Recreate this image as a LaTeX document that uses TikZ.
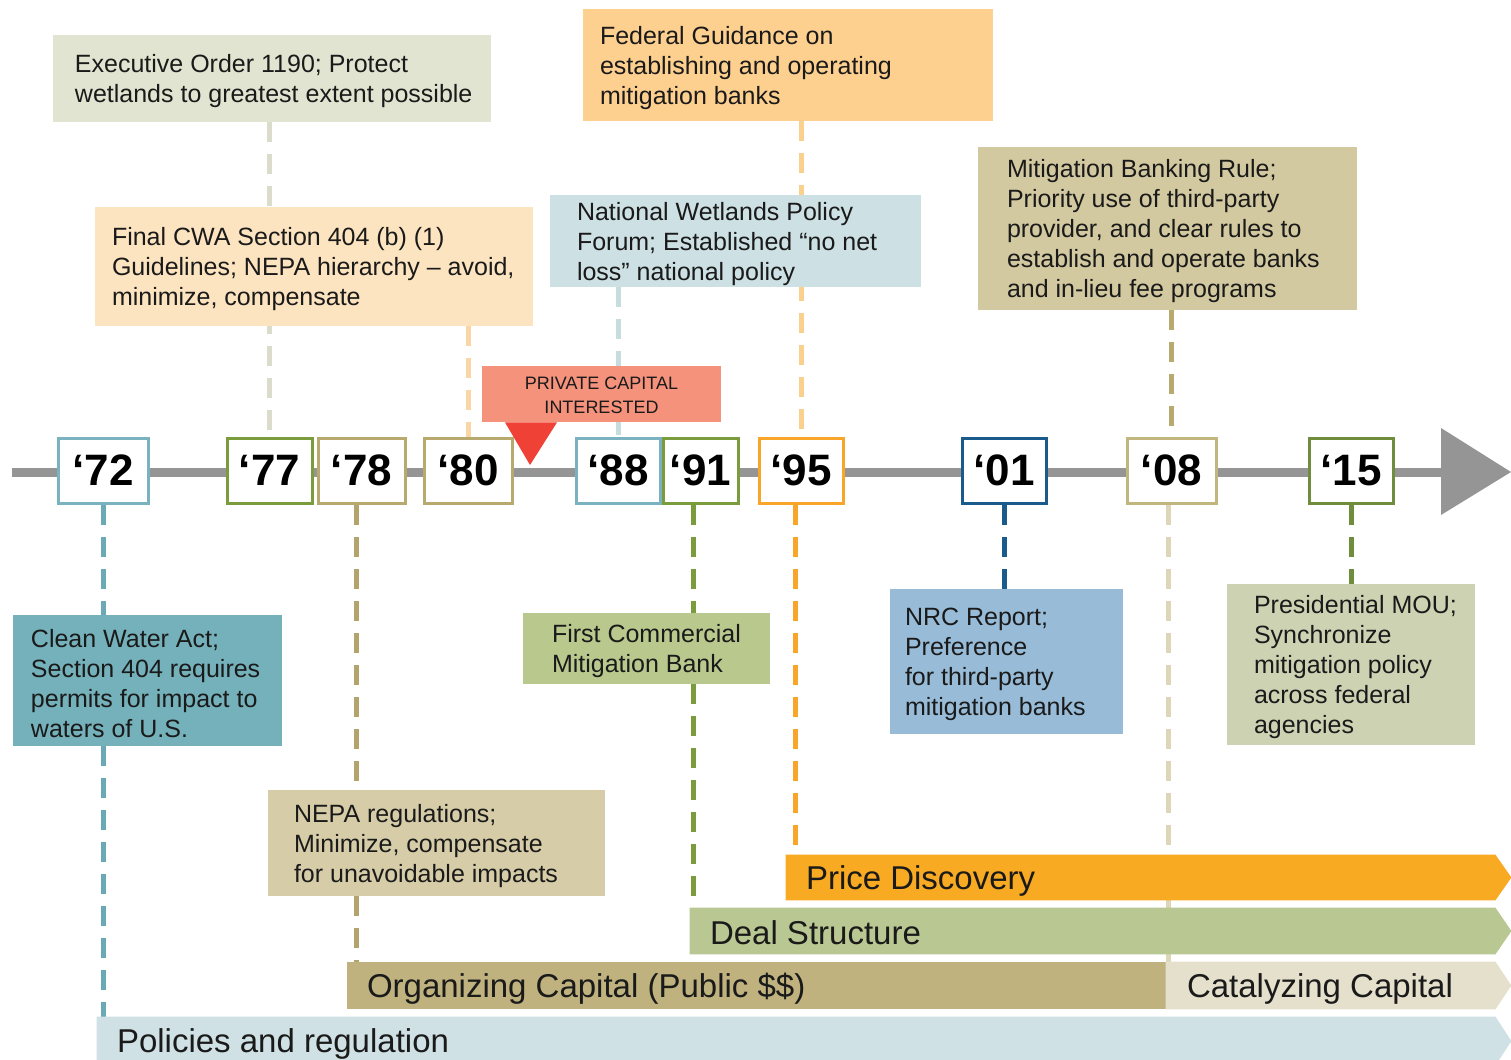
\documentclass[tikz,border=0pt]{standalone}
\usepackage{fontspec}
\setmainfont{Liberation Sans}
\usetikzlibrary{fit,backgrounds}
\definecolor{ink}{HTML}{1A1A1A}
\definecolor{tlgray}{HTML}{959595}
\definecolor{fEO}{HTML}{E1E4D0}
\definecolor{fFC}{HTML}{FDE4C0}
\definecolor{fFED}{HTML}{FED08F}
\definecolor{fNW}{HTML}{CDE0E3}
\definecolor{fMBR}{HTML}{D3C9A0}
\definecolor{fPC}{HTML}{F5927C}
\definecolor{fTRI}{HTML}{EF4136}
\definecolor{fCWA}{HTML}{74B1BA}
\definecolor{fFCMB}{HTML}{B9C98E}
\definecolor{fNEPA}{HTML}{D6CDA8}
\definecolor{fNRC}{HTML}{98BCD8}
\definecolor{fMOU}{HTML}{CDD2B3}
\definecolor{fPRICE}{HTML}{F8AA23}
\definecolor{fDEAL}{HTML}{B9C792}
\definecolor{fORG}{HTML}{BFB27E}
\definecolor{fCAT}{HTML}{E5E0CB}
\definecolor{fPOL}{HTML}{CFE1E4}
\definecolor{cEO}{HTML}{DCDCCA}
\definecolor{cFC}{HTML}{FAD6A4}
\definecolor{cFED}{HTML}{FBCF8C}
\definecolor{cNW}{HTML}{C6DCDF}
\definecolor{cMBR}{HTML}{B8AA6E}
\definecolor{cTeal}{HTML}{6BA9B4}
\definecolor{cTan}{HTML}{B2A46A}
\definecolor{cGreen}{HTML}{7A9C3C}
\definecolor{cOrange}{HTML}{F8A52A}
\definecolor{cBlue}{HTML}{1B5B8B}
\definecolor{cPale}{HTML}{DDD6B7}
\definecolor{cDkGreen}{HTML}{6F8D3C}
\definecolor{bTeal}{HTML}{7AB3BF}
\definecolor{bTan}{HTML}{B8AA6E}
\definecolor{bTan2}{HTML}{C2B67F}
\pgfdeclarelayer{bg}
\pgfsetlayers{bg,main}
% text box: name, x1, y1, x2, y2, fill, left pad (px), text
\newcommand\tbox[8]{%
  \node[fit={(#2,#3)(#4,#5)}, inner sep=0pt, fill=#6] (#1) {};
  \node[txt, anchor=west] (#1t) at ([xshift={#7*0.5pt},yshift=-1.5pt]#1.west) {#8};}
% arrow bar: name, x1, y1, x2, y2, fill
\newcommand\arrbar[6]{%
  \node[fit={(#2,#3)(#4,#5)}, inner sep=0pt] (#1) {};
  \fill[#6] (#1.north west) -- (#1.north east) -- ([xshift=8pt]#1.east) -- (#1.south east) -- (#1.south west) -- cycle;}
% year box: name, x1, x2, colour, text
\newcommand\yearbox[5]{%
  \node[yr=#4, minimum width={(#3-#2)*0.5pt}, minimum height=32.5pt] (#1) at ({(#2+#3)/2},470.5) {#5};}
\begin{document}
\begin{tikzpicture}[x=0.5pt,y=-0.5pt,
  txt/.style={font=\fontsize{12.5}{15}\selectfont, align=left, inner sep=0pt, text=ink},
  yr/.style={draw=#1, line width=1.5pt, fill=white, inner sep=0pt, font=\fontsize{22}{22}\selectfont\bfseries, text=black},
  conn/.style={line width=2.5pt, dash pattern=on 10pt off 6pt, draw=#1},
  bartxt/.style={font=\fontsize{16.5}{18}\selectfont, inner sep=0pt, text=ink, anchor=west}]
\useasboundingbox (0,0) rectangle (1511,1060);
\clip (0,0) rectangle (1511,1060);

% bottom bars
\arrbar{price}{786}{855}{1495}{900}{fPRICE}
\arrbar{deal}{690}{908}{1495}{954}{fDEAL}
\node[fit={(347,962)(1166,1009)}, inner sep=0pt, fill=fORG] (org) {};
\arrbar{cat}{1166}{962}{1495}{1009}{fCAT}
\arrbar{pol}{97}{1017}{1495}{1065}{fPOL}
\node[bartxt] (pricet) at ([xshift=10pt,yshift=-1.5pt]price.west) {Price Discovery};
\node[bartxt] (dealt) at ([xshift=10pt,yshift=-1pt]deal.west) {Deal Structure};
\node[bartxt] (orgt) at ([xshift=10pt,yshift=-1.5pt]org.west) {Organizing Capital (Public \$\$)};
\node[bartxt] (catt) at ([xshift=10.5pt,yshift=-1.5pt]cat.west) {Catalyzing Capital};
\node[bartxt] (polt) at ([xshift=10pt,yshift=-1.5pt]pol.west) {Policies and regulation};

% upper boxes
\tbox{eo}{53}{35}{491}{122}{fEO}{22}{Executive Order 1190; Protect\\wetlands to greatest extent possible}
\tbox{fcwa}{95}{207}{533}{326}{fFC}{17}{Final CWA Section 404 (b) (1)\\Guidelines; NEPA hierarchy – avoid,\\minimize, compensate}
\tbox{fed}{583}{9}{993}{121}{fFED}{17}{Federal Guidance on\\establishing and operating\\mitigation banks}
\tbox{nw}{550}{195}{921}{287}{fNW}{27}{National Wetlands Policy\\Forum; Established “no net\\loss” national policy}
\tbox{mbr}{978}{147}{1357}{310}{fMBR}{29}{Mitigation Banking Rule;\\Priority use of third-party\\provider, and clear rules to\\establish and operate banks\\and in-lieu fee programs}
\node[fit={(482,366)(721,422)}, inner sep=0pt, fill=fPC] (pc) {};
\node[align=center, inner sep=0pt, text=ink, font=\fontsize{9}{12}\selectfont] (pct) at ([yshift=-0.5pt]pc.center) {PRIVATE CAPITAL\\INTERESTED};
\fill[fTRI] (pc.south -| 505,0) -- (pc.south -| 557,0) -- (530,465) -- cycle;

% lower boxes
\tbox{cwa}{13}{615}{282}{746}{fCWA}{18}{Clean Water Act;\\Section 404 requires\\permits for impact to\\waters of U.S.}
\tbox{fcmb}{523}{613}{770}{684}{fFCMB}{29}{First Commercial\\Mitigation Bank}
\tbox{nepa}{268}{790}{605}{896}{fNEPA}{26}{NEPA regulations;\\Minimize, compensate\\for unavoidable impacts}
\tbox{nrc}{890}{589}{1123}{734}{fNRC}{15}{NRC Report;\\Preference\\for third-party\\mitigation banks}
\tbox{mou}{1227}{584}{1475}{745}{fMOU}{27}{Presidential MOU;\\Synchronize\\mitigation policy\\across federal\\agencies}

% year boxes
\yearbox{y72}{58}{148}{bTeal}{‘72}
\yearbox{y77}{227}{312}{cGreen}{‘77}
\yearbox{y78}{318}{405}{bTan}{‘78}
\yearbox{y80}{424}{512}{bTan}{‘80}
\yearbox{y88}{576}{660}{bTeal}{‘88}
\yearbox{y91}{663}{738}{cGreen}{‘91}
\yearbox{y95}{759}{843}{cOrange}{‘95}
\yearbox{y01}{962}{1046}{cBlue}{‘01}
\yearbox{y08}{1127}{1216}{bTan2}{‘08}
\yearbox{y15}{1309}{1393}{cDkGreen}{‘15}

\begin{pgfonlayer}{bg}
  % timeline
  \coordinate (tl0) at (12,472);
  \coordinate (tl1) at (1445,472);
  \draw[line width=4.5pt, tlgray] (tl0) -- (tl1);
  \fill[tlgray] (1441,428) -- (1511,472) -- (1441,515) -- cycle;
  % connectors from upper boxes
  \draw[conn=cEO] (eo.south -| y77.north) -- (y77.north);
  \draw[conn=cFC] (fcwa.south -| y80.north) -- (y80.north);
  \draw[conn=cFED] (fed.south -| y95.north) -- (y95.north);
  \draw[conn=cNW] (nw.south -| y88.north) -- (y88.north);
  \draw[conn=cMBR] (mbr.south -| y08.north) -- (y08.north);
  % connectors to lower boxes and bars
  \draw[conn=cTeal] (y72.south) -- (cwa.north -| y72.south);
  \draw[conn=cTeal] (cwa.south -| y72.south) -- (pol.north -| y72.south);
  \coordinate (x78) at ([xshift=-2.75pt]y78.south);
  \draw[conn=cTan] (x78) -- (nepa.north -| x78);
  \draw[conn=cTan] (nepa.south -| x78) -- (org.north -| x78);
  \coordinate (x91) at ([xshift=-3.75pt]y91.south);
  \draw[conn=cGreen] (x91) -- (fcmb.north -| x91);
  \draw[conn=cGreen] (fcmb.south -| x91) -- (deal.north -| x91);
  \coordinate (x95) at ([xshift=-3pt]y95.south);
  \draw[conn=cOrange] (x95) -- (price.north -| x95);
  \draw[conn=cBlue] (y01.south) -- (nrc.north -| y01.south);
  \coordinate (x08) at ([xshift=-1.5pt]y08.south);
  \draw[conn=cPale] (x08) -- (cat.north -| x08);
  \draw[conn=cDkGreen] (y15.south) -- (mou.north -| y15.south);
\end{pgfonlayer}
\end{tikzpicture}
\end{document}
